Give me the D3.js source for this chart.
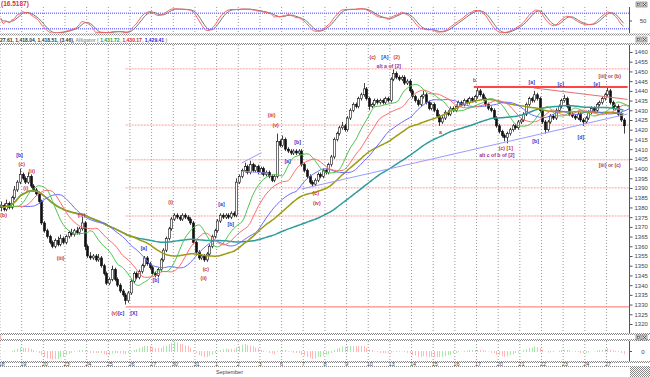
<!DOCTYPE html>
<html>
<head>
<meta charset="utf-8">
<script src="https://cdn.jsdelivr.net/npm/d3@7"></script>
<style>
  body { margin: 0; background: #fff; }
  svg { display: block; }
</style>
</head>
<body>
<div id="chart"></div>
<script>
// trading days on the x axis (Aug 18 .. Sep 27), 8 bars per day
const days = ["18","19","20","23","24","25","26","27","30","31","1","2","3","6","7","8","9","10","13","14","15","16","17","20","21","22","23","24","27"];
const barsPerDay = 8;

const opens = [1380,1381,1379,1382,1380,1385,1389,1393,1397,1395,1393,1396,1391,1389,1387,1383,1372,1368,1365,1362,
1360,1363,1361,1364,1362,1365,1367,1366,1368,1367,1369,1372,1360,1355,1354,1355,1353,1354,1350,1346,
1341,1343,1348,1343,1340,1337,1335,1332,1336,1342,1346,1344,1347,1350,1354,1351,1349,1346,1345,1348,
1353,1358,1364,1369,1374,1376,1375,1374,1376,1375,1374,1372,1362,1357,1354,1355,1353,1356,1360,1365,
1368,1373,1376,1375,1376,1375,1377,1376,1393,1396,1399,1401,1398,1402,1399,1401,1398,1400,1397,1398,
1396,1394,1396,1414,1412,1415,1410,1409,1408,1409,1408,1409,1402,1399,1396,1393,1392,1394,1397,1396,
1399,1398,1402,1406,1415,1418,1421,1422,1420,1426,1430,1433,1432,1436,1438,1441,1436,1432,1433,1435,
1434,1435,1434,1436,1435,1446,1449,1447,1446,1447,1444,1445,1440,1437,1435,1433,1437,1438,1434,1431,
1433,1430,1427,1424,1426,1429,1428,1431,1430,1432,1434,1433,1435,1434,1436,1435,1437,1440,1438,1436,
1433,1431,1430,1426,1422,1419,1417,1416,1418,1420,1422,1421,1424,1425,1428,1433,1436,1435,1438,1436,
1430,1424,1420,1424,1427,1426,1430,1432,1435,1436,1432,1428,1427,1426,1428,1425,1424,1426,1429,1431,
1430,1433,1434,1436,1438,1440,1434,1431,1432,1428,1425];
const highs = [1383,1382,1384,1383,1386,1391,1394,1400,1398,1396,1398,1397,1392,1390,1388,1384,1373,1369,1366,1363,
1364,1365,1366,1365,1366,1368,1369,1369,1370,1370,1375,1373,1361,1357,1356,1356,1356,1355,1351,1347,
1344,1350,1349,1344,1341,1338,1336,1337,1343,1347,1347,1348,1351,1355,1355,1352,1350,1347,1349,1354,
1359,1365,1370,1375,1377,1377,1376,1377,1377,1376,1375,1373,1363,1358,1356,1356,1357,1361,1366,1369,
1374,1377,1377,1377,1377,1378,1378,1395,1397,1400,1403,1402,1404,1403,1402,1402,1401,1401,1399,1399,
1397,1397,1418,1415,1417,1416,1411,1410,1410,1410,1410,1410,1403,1400,1397,1394,1395,1398,1398,1400,
1400,1403,1407,1416,1419,1422,1424,1423,1427,1431,1434,1434,1437,1439,1444,1442,1437,1434,1436,1436,
1436,1436,1437,1437,1447,1451,1450,1448,1448,1448,1446,1446,1441,1438,1436,1438,1440,1439,1435,1434,
1434,1431,1428,1427,1430,1430,1432,1432,1433,1435,1435,1436,1436,1437,1437,1438,1442,1441,1439,1437,
1434,1432,1431,1427,1423,1420,1418,1419,1421,1423,1423,1425,1426,1429,1434,1437,1437,1440,1439,1437,
1431,1425,1425,1428,1428,1431,1433,1436,1438,1437,1433,1429,1428,1429,1429,1426,1427,1430,1432,1432,
1434,1435,1437,1439,1442,1441,1435,1433,1433,1429,1426];
const lows = [1378,1378,1378,1379,1379,1384,1388,1392,1394,1392,1392,1390,1388,1386,1382,1371,1367,1364,1361,1359,
1359,1360,1360,1361,1361,1364,1365,1365,1366,1366,1368,1358,1354,1353,1353,1352,1352,1349,1345,1340,
1340,1342,1342,1339,1336,1334,1330,1331,1335,1341,1343,1343,1346,1349,1350,1348,1345,1344,1344,1347,
1352,1357,1363,1368,1373,1374,1373,1373,1374,1373,1371,1361,1356,1353,1353,1352,1352,1355,1359,1364,
1367,1372,1374,1374,1374,1374,1375,1375,1392,1395,1398,1397,1397,1398,1398,1397,1397,1396,1396,1395,
1393,1393,1395,1411,1411,1409,1408,1407,1407,1407,1407,1401,1398,1395,1392,1391,1391,1393,1395,1395,
1397,1397,1401,1405,1414,1417,1420,1419,1419,1425,1429,1431,1431,1435,1437,1435,1430,1431,1432,1433,
1433,1433,1433,1434,1434,1445,1446,1445,1445,1443,1443,1439,1436,1434,1432,1432,1436,1433,1430,1430,
1429,1426,1422,1423,1425,1427,1427,1429,1429,1431,1432,1432,1433,1433,1434,1434,1436,1437,1435,1432,
1430,1429,1425,1421,1418,1416,1414,1413,1417,1419,1420,1420,1423,1424,1427,1432,1434,1434,1435,1429,
1423,1418,1419,1423,1425,1425,1429,1431,1434,1431,1427,1426,1425,1425,1424,1422,1423,1425,1428,1429,
1429,1432,1433,1435,1437,1433,1430,1430,1427,1424,1418];
const closes = [1381,1379,1382,1380,1385,1389,1393,1397,1395,1393,1396,1391,1389,1387,1383,1372,1368,1365,1362,1360,
1363,1361,1364,1362,1365,1367,1366,1368,1367,1369,1372,1360,1355,1354,1355,1353,1354,1350,1346,1341,
1343,1348,1343,1340,1337,1335,1332,1336,1342,1346,1344,1347,1350,1354,1351,1349,1346,1345,1348,1353,
1358,1364,1369,1374,1376,1375,1374,1376,1375,1374,1372,1362,1357,1354,1355,1353,1356,1360,1365,1368,
1373,1376,1375,1376,1375,1377,1376,1393,1396,1399,1401,1398,1402,1399,1401,1398,1400,1397,1398,1396,
1394,1396,1414,1412,1415,1410,1409,1408,1409,1408,1409,1402,1399,1396,1393,1392,1394,1397,1396,1399,
1398,1402,1406,1415,1418,1421,1422,1420,1426,1430,1433,1432,1436,1438,1441,1436,1432,1433,1435,1434,
1435,1434,1436,1435,1446,1449,1447,1446,1447,1444,1445,1440,1437,1435,1433,1437,1438,1434,1431,1433,
1430,1427,1424,1426,1429,1428,1431,1430,1432,1434,1433,1435,1434,1436,1435,1437,1440,1438,1436,1433,
1431,1430,1426,1422,1419,1417,1416,1418,1420,1422,1421,1424,1425,1428,1433,1436,1435,1438,1436,1430,
1424,1420,1424,1427,1426,1430,1432,1435,1436,1432,1428,1427,1426,1428,1425,1424,1426,1429,1431,1430,
1433,1434,1436,1438,1440,1434,1431,1432,1428,1425,1422];

// y axis ticks
const priceTicks = d3.range(1320, 1461, 5);

// fibonacci retracement drawn from the low bar to the right edge
const fibStartBar = 46.6;
const fibLow = 1328.8, fibHigh = 1451.3;
const fibRatios = [0, 0.236, 0.382, 0.5, 0.618];

// trend lines: [bar, price] pairs
const trendLines = [
  { from: [111.6, 1389.5], to: [232, 1428.1], color: "#9a9aff", width: 1 },
  { from: [89.5, 1402.9], to: [96.8, 1408.2], color: "#9a9aff", width: 1 },
  { from: [89.5, 1398.6], to: [99.5, 1397.6], color: "#9a9aff", width: 1 },
  { from: [197.3, 1441.5], to: [232, 1435.6], color: "#e07070", width: 1 },
  { from: [175.2, 1442.0], to: [232, 1442.0], color: "#ff4444", width: 2 }
];

// wave labels: [bar, price, text, colour]
const waveLabels = [
  [1.5, 1376.1, "(b)", "#cc3333"],
  [7.4, 1407.0, "[b]", "#3333cc"],
  [8.2, 1402.4, "(c)", "#cc3333"],
  [9.7, 1390.2, "(i)", "#cc3333"],
  [11.9, 1398.8, "(ii)", "#cc3333"],
  [22.6, 1354.0, "(iii)", "#cc3333"],
  [30.3, 1376.1, "(iv)", "#cc3333"],
  [42.5, 1325.7, "(v)", "#cc3333"],
  [44.9, 1325.7, "[c]", "#3333cc"],
  [49.6, 1325.7, "[X]", "#3333cc"],
  [53.3, 1359.1, "[a]", "#3333cc"],
  [57.7, 1342.7, "[b]", "#3333cc"],
  [63.2, 1382.8, "(i)", "#cc3333"],
  [76.2, 1348.3, "(c)", "#cc3333"],
  [75.4, 1343.7, "(ii)", "#cc3333"],
  [82.0, 1381.8, "[a]", "#3333cc"],
  [85.4, 1371.5, "[b]", "#3333cc"],
  [100.5, 1427.6, "(iii)", "#cc3333"],
  [102.0, 1422.4, "(v)", "#cc3333"],
  [106.4, 1403.9, "[a]", "#3333cc"],
  [110.1, 1413.7, "[b]", "#3333cc"],
  [116.8, 1387.4, "(c)", "#cc3333"],
  [117.2, 1382.3, "(iv)", "#cc3333"],
  [137.8, 1457.4, "(c)", "#cc3333"],
  [142.3, 1457.4, "[A]", "#3333cc"],
  [146.7, 1457.4, "(2)", "#ee3333"],
  [143.8, 1452.8, "alt a of [2]", "#993399"],
  [162.9, 1418.8, "a", "#cc3333"],
  [175.5, 1445.6, "b", "#cc3333"],
  [187.0, 1410.6, "(c) [1]", "#cc3333"],
  [183.7, 1407.0, "alt c of b of [2]", "#993399"],
  [196.6, 1444.6, "[a]", "#3333cc"],
  [198.0, 1414.2, "[b]", "#3333cc"],
  [207.3, 1443.5, "[c]", "#3333cc"],
  [214.7, 1416.3, "[d]", "#3333cc"],
  [220.6, 1443.5, "[e]", "#3333cc"],
  [225.4, 1447.6, "[iii] or (b)", "#aa4444"],
  [225.4, 1401.8, "[iii] or (c)", "#aa4444"]
];

// ---------------------------------------------------------------
const W = 650, H = 377;
const plotR = 629;
const stochTop = 7, stochBot = 33;
const mainTop = 45, mainBot = 333;
const histTop = 341, histBot = 361;
const dayW = 21.66;

const svg = d3.select("#chart").append("svg")
    .attr("width", W).attr("height", H)
    .style("font-family", "'Liberation Sans', Arial, sans-serif");

const x = d3.scaleLinear()
    .domain([0, days.length * barsPerDay])
    .range([-0.5, -0.5 + days.length * dayW]);
const y = d3.scaleLinear().domain([1320, 1460]).range([324, 52]);
const ySto = d3.scaleLinear().domain([0, 100]).range([34, 8]);

// indicator helpers
function sma(vals, n) {
    return vals.map((v, i) => d3.mean(vals.slice(Math.max(0, i - n + 1), i + 1)));
}
function smma(vals, n) {
    let s;
    return vals.map((v, i) => (s = i === 0 ? v : (s * (n - 1) + v) / n));
}
function ema(vals, n) {
    const k = 2 / (n + 1);
    let e;
    return vals.map((v, i) => (e = i === 0 ? v : v * k + e * (1 - k)));
}

const median = closes.map((c, i) => (highs[i] + lows[i]) / 2);

// clip paths and the hatched frame pattern
const defs = svg.append("defs");
defs.append("clipPath").attr("id", "clipMain")
    .append("rect").attr("x", 0).attr("y", mainTop).attr("width", plotR).attr("height", mainBot - mainTop);
defs.append("clipPath").attr("id", "clipSto")
    .append("rect").attr("x", 0).attr("y", stochTop).attr("width", plotR).attr("height", stochBot - stochTop);
const pat = defs.append("pattern").attr("id", "checker")
    .attr("width", 2).attr("height", 2).attr("patternUnits", "userSpaceOnUse");
pat.append("rect").attr("width", 2).attr("height", 2).attr("fill", "#fff");
pat.append("rect").attr("width", 1).attr("height", 1).attr("fill", "#888");
pat.append("rect").attr("x", 1).attr("y", 1).attr("width", 1).attr("height", 1).attr("fill", "#888");

// vertical day gridlines in each panel
function dayGrid(top, bottom) {
    svg.append("g").selectAll("line")
        .data(days.map((d, i) => i))
        .join("line")
        .attr("x1", d => x(d * barsPerDay) + 0.5).attr("x2", d => x(d * barsPerDay) + 0.5)
        .attr("y1", top).attr("y2", bottom)
        .attr("stroke", "#999").attr("stroke-dasharray", "1,2");
}
dayGrid(stochTop, stochBot);
dayGrid(mainTop, mainBot);
dayGrid(histTop, histBot);

// ---------------- stochastic panel ----------------
const kRaw = closes.map((c, i) => {
    const lo = d3.min(lows.slice(Math.max(0, i - 13), i + 1));
    const hi = d3.max(highs.slice(Math.max(0, i - 13), i + 1));
    return hi === lo ? 50 : 100 * (c - lo) / (hi - lo);
});
const kSlow = sma(kRaw, 5);
const dSlow = sma(kSlow, 3);

const stoG = svg.append("g").attr("clip-path", "url(#clipSto)");
[20, 80].forEach(v => {
    stoG.append("line").attr("x1", 0).attr("x2", plotR)
        .attr("y1", ySto(v)).attr("y2", ySto(v))
        .attr("stroke", "#7b7bff").attr("stroke-width", 1.6).attr("stroke-dasharray", "1,1");
});
const stoLine = d3.line().x((d, i) => x(i + 0.5)).y(d => ySto(d)).curve(d3.curveMonotoneX);
stoG.append("path").datum(dSlow).attr("d", stoLine)
    .attr("fill", "none").attr("stroke", "#777").attr("stroke-width", 1);
stoG.append("path").datum(kSlow).attr("d", stoLine)
    .attr("fill", "none").attr("stroke", "#ff6060").attr("stroke-width", 1);

svg.append("text").attr("x", 1).attr("y", 6).text("(16.5187)")
    .attr("fill", "#e03030").attr("font-size", 6.5).attr("font-weight", "bold");
svg.append("line").attr("x1", plotR + 0.5).attr("x2", plotR + 0.5).attr("y1", stochTop).attr("y2", stochBot)
    .attr("stroke", "#555");
svg.append("line").attr("x1", plotR).attr("x2", plotR + 3).attr("y1", ySto(50)).attr("y2", ySto(50)).attr("stroke", "#555");
svg.append("text").attr("x", 643).attr("y", ySto(50) + 2).text("50")
    .attr("font-size", 6).attr("fill", "#444").attr("text-anchor", "middle");

// panel separators
function separator(yTop, h) {
    svg.append("rect").attr("x", 0).attr("y", yTop).attr("width", W).attr("height", h).attr("fill", "url(#checker)");
}
separator(33.5, 2);
separator(43, 2);
separator(333, 2);
separator(339, 2);
separator(361, 2);
separator(366, 1);
svg.append("rect").attr("x", 630).attr("y", 367).attr("width", 20).attr("height", 10).attr("fill", "url(#checker)");

// window icons
[2, 37, 335].forEach(yy => {
    const g = svg.append("g").attr("transform", `translate(636,${yy})`);
    g.append("rect").attr("width", 5).attr("height", 5).attr("fill", "#ddd").attr("stroke", "#666").attr("stroke-width", 0.6);
    g.append("rect").attr("x", 6).attr("width", 5).attr("height", 5).attr("fill", "#ddd").attr("stroke", "#666").attr("stroke-width", 0.6);
    g.append("path").attr("d", "M7,1 L10,4 M10,1 L7,4").attr("stroke", "#333").attr("stroke-width", 0.7);
    g.append("rect").attr("x", 1.5).attr("y", 1.5).attr("width", 2).attr("height", 2).attr("fill", "none").attr("stroke", "#333").attr("stroke-width", 0.5);
});

// main panel header text
const hdr = svg.append("text").attr("x", 0).attr("y", 41.5).attr("font-size", 5).attr("font-weight", "bold");
hdr.append("tspan").text("27.61, 1,418.04, 1,418.51, (3.46), ").attr("fill", "#333");
hdr.append("tspan").text("Alligator ( ").attr("fill", "#999");
hdr.append("tspan").text("1,431.72").attr("fill", "#2a9a2a");
hdr.append("tspan").text(", ").attr("fill", "#999");
hdr.append("tspan").text("1,430.17").attr("fill", "#dd2222");
hdr.append("tspan").text(", ").attr("fill", "#999");
hdr.append("tspan").text("1,429.41").attr("fill", "#2222dd");
hdr.append("tspan").text(" )").attr("fill", "#999");

// ---------------- main panel ----------------
const mainG = svg.append("g").attr("clip-path", "url(#clipMain)");

// fibonacci levels
const fibLevels = fibRatios.map(r => fibHigh - r * (fibHigh - fibLow));
mainG.append("g").selectAll("line").data(fibLevels).join("line")
    .attr("x1", x(fibStartBar)).attr("x2", plotR)
    .attr("y1", d => y(d)).attr("y2", d => y(d))
    .attr("stroke", "#ff9a9a").attr("stroke-width", 1).attr("stroke-dasharray", "2,1");
mainG.append("line").attr("x1", x(fibStartBar)).attr("x2", plotR)
    .attr("y1", y(fibLow)).attr("y2", y(fibLow))
    .attr("stroke", "#ff8a8a").attr("stroke-width", 1.2);

// candles
const bw = 2.1;
const candles = mainG.append("g").selectAll("g").data(closes.map((c, i) => i)).join("g");
candles.append("line")
    .attr("x1", i => Math.round(x(i + 0.5)) + 0.5).attr("x2", i => Math.round(x(i + 0.5)) + 0.5)
    .attr("y1", i => y(highs[i])).attr("y2", i => y(lows[i]))
    .attr("stroke", "#111").attr("stroke-width", 0.8);
candles.append("rect")
    .attr("x", i => Math.round(x(i + 0.5)) + 0.5 - bw / 2)
    .attr("y", i => y(Math.max(opens[i], closes[i])))
    .attr("width", bw)
    .attr("height", i => Math.max(0.8, Math.abs(y(opens[i]) - y(closes[i]))))
    .attr("fill", i => closes[i] >= opens[i] ? "#fff" : "#111")
    .attr("stroke", "#111").attr("stroke-width", 0.6);

// moving averages (alligator lines are shifted forward)
function drawMA(vals, shift, color, width) {
    const pts = vals.map((v, i) => ({ i: i + shift, v }));
    mainG.append("path").datum(pts)
        .attr("d", d3.line().x(d => x(d.i + 0.5)).y(d => y(d.v)).curve(d3.curveMonotoneX))
        .attr("fill", "none").attr("stroke", color).attr("stroke-width", width);
}
drawMA(sma(closes, 80), 0, "#2f9c9c", 1.5);
drawMA(sma(closes, 50), 0, "#9c9c10", 1.5);
drawMA(smma(median, 13), 8, "#6a6aff", 1);
drawMA(smma(median, 8), 5, "#ff6a6a", 1);
drawMA(smma(median, 5), 3, "#4cc44c", 1);

// trend lines
mainG.append("g").selectAll("line").data(trendLines).join("line")
    .attr("x1", d => x(d.from[0])).attr("y1", d => y(d.from[1]))
    .attr("x2", d => x(d.to[0])).attr("y2", d => y(d.to[1]))
    .attr("stroke", d => d.color).attr("stroke-width", d => d.width);

// wave labels
mainG.append("g").selectAll("text").data(waveLabels).join("text")
    .attr("x", d => x(d[0])).attr("y", d => y(d[1]) + 2)
    .attr("text-anchor", "middle")
    .attr("font-size", 5.2).attr("font-weight", "bold")
    .attr("fill", d => d[3])
    .text(d => d[2]);

// price axis
svg.append("line").attr("x1", plotR + 0.5).attr("x2", plotR + 0.5).attr("y1", mainTop).attr("y2", mainBot)
    .attr("stroke", "#555");
const axisG = svg.append("g").attr("transform", `translate(${plotR + 0.5},0)`)
    .call(d3.axisRight(y).tickValues(priceTicks).tickSize(3).tickFormat(d3.format("d")));
axisG.select(".domain").remove();
axisG.selectAll("line").attr("stroke", "#555");
axisG.selectAll("text").attr("font-size", 6).attr("fill", "#444").attr("x", 5)
    .style("font-family", "'Liberation Sans', Arial, sans-serif");

// ---------------- MACD histogram panel ----------------
const ema26 = ema(closes, 26);
const macd = ema(closes, 12).map((v, i) => v - ema26[i]);
const signal = ema(macd, 9);
const hist = macd.map((v, i) => v - signal[i]);
const hZero = 351.5;
const hMax = d3.max(hist, Math.abs);
const yHist = d3.scaleLinear().domain([-hMax, hMax]).range([hZero + 9, hZero - 9]);
svg.append("g").selectAll("line").data(hist).join("line")
    .attr("x1", (d, i) => Math.round(x(i + 0.5)) + 0.5).attr("x2", (d, i) => Math.round(x(i + 0.5)) + 0.5)
    .attr("y1", hZero).attr("y2", d => yHist(d))
    .attr("stroke", (d, i) => i > 0 && d < hist[i - 1] ? "#ff7070" : "#55cc55")
    .attr("stroke-width", 1).attr("stroke-dasharray", "1,1");
svg.append("line").attr("x1", plotR + 0.5).attr("x2", plotR + 0.5).attr("y1", histTop).attr("y2", histBot)
    .attr("stroke", "#555");
svg.append("line").attr("x1", plotR).attr("x2", plotR + 3).attr("y1", hZero).attr("y2", hZero).attr("stroke", "#555");
svg.append("text").attr("x", 643).attr("y", hZero + 2).text("0")
    .attr("font-size", 6).attr("fill", "#444").attr("text-anchor", "middle");
svg.append("text").attr("x", 0).attr("y", 338.5).text("(").attr("font-size", 5).attr("fill", "#cc4466");

// date labels
svg.append("g").selectAll("text").data(days).join("text")
    .attr("x", (d, i) => x(i * barsPerDay) - 1).attr("y", 366)
    .attr("font-size", 5.5).attr("fill", "#444")
    .text(d => d);
svg.append("text").attr("x", x(10 * barsPerDay)).attr("y", 374).text("September")
    .attr("font-size", 5.5).attr("fill", "#444");
</script>
</body>
</html>
